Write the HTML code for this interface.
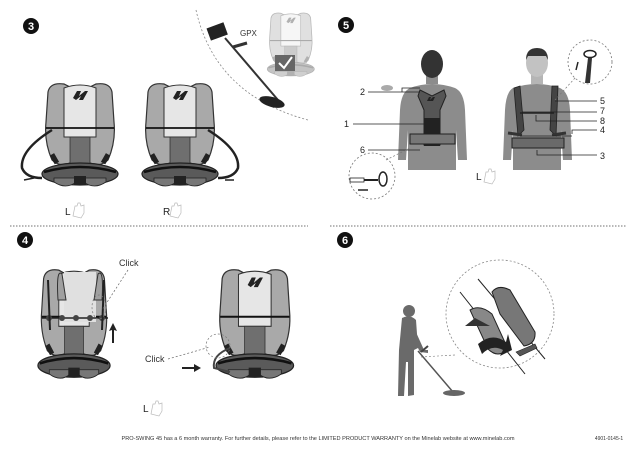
<!DOCTYPE html>
<html><head><meta charset="utf-8"><style>
html,body{margin:0;padding:0;background:#fff;}
svg{display:block;font-family:"Liberation Sans",sans-serif;}
</style></head><body>
<svg width="638" height="452" viewBox="0 0 638 452" xmlns="http://www.w3.org/2000/svg">
<defs>
<g id="hv">
  <path d="M8 10 Q10 0 24 2 L32 6 L32 80 Q20 86 12 78 Q4 60 6 40 Z" fill="#a9a9a9" stroke="#333" stroke-width="1.2"/>
  <path d="M72 10 Q70 0 56 2 L48 6 L48 80 Q60 86 68 78 Q76 60 74 40 Z" fill="#a9a9a9" stroke="#333" stroke-width="1.2"/>
  <path d="M24 6 Q40 0 56 6 L56 55 L24 55 Z" fill="#e6e6e6" stroke="#333" stroke-width="1"/>
  <rect x="30" y="55" width="20" height="30" fill="#6f6f6f" stroke="#333" stroke-width="0.8"/>
  <path d="M33 16 L37 9 L41 9 L39 14 L45 9 L48 9 L43 18 L39 18 L41 14 L36 18 Z" fill="#222"/>
  <line x1="6" y1="46" x2="74" y2="46" stroke="#111" stroke-width="1.8"/>
  <ellipse cx="40" cy="92" rx="38" ry="11" fill="#5a5a5a" stroke="#222" stroke-width="1.2"/>
  <path d="M4 90 Q40 80 76 90" fill="none" stroke="#111" stroke-width="2.5"/>
  <path d="M14 100 Q26 108 36 100 L44 100 Q54 108 66 100 L66 96 L14 96 Z" fill="#777" stroke="#222" stroke-width="0.8"/>
  <rect x="34" y="94" width="12" height="9" fill="#222"/>
  <rect x="12" y="72" width="5" height="10" fill="#222" transform="rotate(-30 14 77)"/>
  <rect x="63" y="72" width="5" height="10" fill="#222" transform="rotate(30 66 77)"/>
</g>
</defs>

<line x1="10" y1="226" x2="308" y2="226" stroke="#444" stroke-width="0.8" stroke-dasharray="1.5,1.5"/>
<line x1="330" y1="226" x2="627" y2="226" stroke="#444" stroke-width="0.8" stroke-dasharray="1.5,1.5"/>

<g font-weight="bold" font-size="11" fill="#fff" text-anchor="middle">
<circle cx="31" cy="26" r="8" fill="#111"/><text x="31" y="30">3</text>
<circle cx="346" cy="25" r="8" fill="#111"/><text x="346" y="29">5</text>
<circle cx="25" cy="240" r="8" fill="#111"/><text x="25" y="244">4</text>
<circle cx="345" cy="240" r="8" fill="#111"/><text x="345" y="244">6</text>
</g>

<path d="M196 10 Q215 95 308 120" fill="none" stroke="#888" stroke-width="0.8" stroke-dasharray="2,2"/>
<text x="240" y="36" font-size="8" fill="#333">GPX</text>
<rect x="208" y="25" width="18" height="13" fill="#222" transform="rotate(-20 217 31)"/>
<line x1="225" y1="38" x2="278" y2="100" stroke="#333" stroke-width="2"/>
<line x1="233" y1="47" x2="247" y2="43" stroke="#333" stroke-width="3"/>
<ellipse cx="272" cy="102" rx="13" ry="5" fill="#222" transform="rotate(15 272 102)"/>
<g opacity="0.35" transform="translate(266,12) scale(0.62)"><use href="#hv"/></g>
<rect x="275" y="55" width="20" height="16" fill="#666"/>
<path d="M279 63 L284 68 L292 57" stroke="#fff" stroke-width="2" fill="none"/>

<g transform="translate(40,82)"><use href="#hv"/></g>
<g transform="translate(140,82)"><use href="#hv"/></g>
<path d="M52 130 Q20 150 22 168 Q26 178 42 178" fill="none" stroke="#222" stroke-width="2.5"/>
<path d="M208 130 Q240 150 238 168 Q234 178 218 178" fill="none" stroke="#222" stroke-width="2.5"/>
<line x1="24" y1="180" x2="34" y2="178" stroke="#222" stroke-width="1.5"/>
<line x1="225" y1="180" x2="234" y2="180" stroke="#222" stroke-width="1.5"/>
<text x="65" y="215" font-size="10" fill="#222">L</text>
<text x="163" y="215" font-size="10" fill="#222">R</text>
<path d="M73 216 l2 -10 l2 0 l1 -3 l2 0 l1 3 l3 -1 l0 8 l-3 5 Z" fill="none" stroke="#bbb" stroke-width="0.7"/>
<path d="M170 216 l2 -10 l2 0 l1 -3 l2 0 l1 3 l3 -1 l0 8 l-3 5 Z" fill="none" stroke="#bbb" stroke-width="0.7"/>

<g fill="#8c8c8c">
<path d="M410 88 Q432 80 455 88 Q464 92 465 110 L467 160 L458 160 L456 130 L456 170 L408 170 L408 130 L406 160 L398 160 L400 110 Q401 92 410 88 Z"/>
<rect x="426" y="74" width="12" height="10"/>
<path d="M513 88 Q537 80 560 88 Q569 92 570 110 L572 160 L563 160 L561 130 L561 170 L513 170 L513 130 L511 160 L503 160 L505 110 Q506 92 513 88 Z"/>
<rect x="531" y="72" width="12" height="12" fill="#b5b5b5"/>
</g>
<ellipse cx="432" cy="64" rx="11" ry="14" fill="#333"/>
<ellipse cx="537" cy="63" rx="11" ry="14" fill="#c2c2c2"/>
<path d="M526 60 Q526 48 537 48 Q548 48 548 60 L546 56 L528 56 Z" fill="#333"/>
<ellipse cx="387" cy="88" rx="6" ry="3" fill="#aaa"/>
<path d="M420 90 L432 96 L444 90 L446 96 L440 110 L440 145 L424 145 L424 110 L418 96 Z" fill="#555" stroke="#222" stroke-width="1"/>
<rect x="424" y="118" width="16" height="28" fill="#222"/>
<rect x="410" y="134" width="45" height="10" fill="#777" stroke="#222" stroke-width="1"/>
<path d="M427 101 l2 -4 h2 l-1 3 l3 -3 h2 l-2 4 Z" fill="#222"/>
<path d="M514 88 L520 86 L524 130 L518 136 Z M558 86 L552 86 L550 130 L556 136 Z" fill="#444" stroke="#222" stroke-width="0.8"/>
<line x1="520" y1="113" x2="554" y2="113" stroke="#222" stroke-width="1.5"/>
<rect x="512" y="138" width="52" height="10" fill="#6a6a6a" stroke="#222" stroke-width="1"/>
<path d="M508 133 L522 135 M566 133 L552 135" stroke="#333" stroke-width="3"/>
<g font-size="9" fill="#222">
<text x="360" y="95">2</text><text x="344" y="127">1</text><text x="360" y="153">6</text>
<text x="600" y="104">5</text><text x="600" y="114">7</text><text x="600" y="124">8</text><text x="600" y="133">4</text><text x="600" y="159">3</text>
</g>
<g stroke="#222" stroke-width="0.8" fill="none">
<path d="M368 92 H420 M402 92 V88 H420"/>
<line x1="353" y1="124" x2="430" y2="124"/>
<line x1="368" y1="150" x2="420" y2="150"/>
<line x1="555" y1="101" x2="597" y2="101"/>
<line x1="522" y1="112" x2="597" y2="112"/>
<path d="M536 115 V121 H597"/>
<path d="M520 136 H572 M572 134 V130 H597"/>
<path d="M537 150 V155 H597"/>
</g>
<circle cx="372" cy="176" r="23" fill="#fff" stroke="#777" stroke-width="0.8" stroke-dasharray="2,2"/>
<line x1="386" y1="160" x2="410" y2="148" stroke="#777" stroke-width="0.7" stroke-dasharray="2,2"/>
<rect x="350" y="178" width="14" height="4" fill="#fff" stroke="#222" stroke-width="0.8"/>
<line x1="364" y1="180" x2="378" y2="180" stroke="#222" stroke-width="2"/>
<ellipse cx="383" cy="179" rx="4" ry="7" fill="none" stroke="#222" stroke-width="1.5"/>
<line x1="358" y1="190" x2="368" y2="190" stroke="#222" stroke-width="1.5"/>
<circle cx="590" cy="62" r="22" fill="#fff" stroke="#777" stroke-width="0.8" stroke-dasharray="2,2"/>
<line x1="575" y1="78" x2="555" y2="100" stroke="#777" stroke-width="0.7" stroke-dasharray="2,2"/>
<ellipse cx="590" cy="54" rx="6" ry="3.5" fill="none" stroke="#222" stroke-width="1.5"/>
<path d="M588 58 L585 83 L590 83 L592 58 Z" fill="#333"/>
<line x1="578" y1="62" x2="576" y2="70" stroke="#222" stroke-width="1.5"/>
<text x="476" y="180" font-size="10" fill="#222">L</text>
<path d="M484 182 l2 -10 l2 0 l1 -3 l2 0 l1 3 l3 -1 l0 8 l-3 5 Z" fill="none" stroke="#bbb" stroke-width="0.7"/>

<g transform="translate(36,268) scale(0.95,1.06)"><use href="#hv"/></g>
<rect x="64" y="272" width="32" height="50" fill="#e0e0e0"/>
<path d="M62 274 Q56 268 58 300 L66 300 Z M98 274 Q104 268 102 300 L94 300 Z" fill="#a0a0a0" stroke="#333"/>
<line x1="42" y1="318" x2="108" y2="318" stroke="#222" stroke-width="1.5"/>
<g fill="#444"><circle cx="49" cy="318" r="3"/><circle cx="62" cy="318" r="3"/><circle cx="76" cy="318" r="3"/><circle cx="90" cy="318" r="3"/><circle cx="102" cy="318" r="3"/></g>
<path d="M48 280 L50 330 M104 280 L102 330" stroke="#222" stroke-width="2"/>
<g transform="translate(214,268) scale(1.02,1.06)"><use href="#hv"/></g>
<path d="M230 348 Q212 355 214 368 L230 372" fill="none" stroke="#444" stroke-width="2"/>
<text x="119" y="266" font-size="9" fill="#333">Click</text>
<text x="145" y="362" font-size="9" fill="#333">Click</text>
<line x1="128" y1="270" x2="102" y2="310" stroke="#666" stroke-width="0.7" stroke-dasharray="2,2"/>
<ellipse cx="99" cy="307" rx="7" ry="12" fill="none" stroke="#777" stroke-width="0.7" stroke-dasharray="2,2"/>
<line x1="168" y1="359" x2="210" y2="347" stroke="#666" stroke-width="0.7" stroke-dasharray="2,2"/>
<circle cx="218" cy="346" r="12" fill="none" stroke="#777" stroke-width="0.7" stroke-dasharray="2,2"/>
<path d="M112 343 L112 330 L109 331 L113 323 L117 331 L114 330 L114 343 Z" fill="#222"/>
<path d="M182 367 L194 367 L194 364 L201 368 L194 372 L194 369 L182 369 Z" fill="#222"/>
<text x="143" y="412" font-size="10" fill="#222">L</text>
<path d="M151 414 l2 -10 l2 0 l1 -3 l2 0 l1 3 l3 -1 l0 8 l-3 5 Z" fill="none" stroke="#bbb" stroke-width="0.7"/>

<g transform="translate(0,14)">
<circle cx="500" cy="300" r="54" fill="#fff" stroke="#888" stroke-width="0.8" stroke-dasharray="2,2"/>
<line x1="460" y1="278" x2="525" y2="360" stroke="#222" stroke-width="1"/>
<line x1="478" y1="265" x2="545" y2="345" stroke="#222" stroke-width="1"/>
<path d="M492 278 Q498 270 510 276 L535 318 Q536 330 524 332 L500 300 Z" fill="#777" stroke="#222" stroke-width="1"/>
<path d="M470 296 Q480 290 492 300 L508 335 Q498 345 488 335 Z" fill="#888" stroke="#222" stroke-width="1"/>
<path d="M478 330 Q492 318 506 328 L508 320 L512 336 L500 342 L503 336 Q492 330 482 340 Z" fill="#222"/>
<path d="M465 312 L475 304 L490 312 Z" fill="#333"/>
<path d="M516 338 L535 330 L537 334 L520 342 Z" fill="#555" stroke="#222" stroke-width="0.6"/>
</g>
<line x1="421" y1="357" x2="455" y2="355" stroke="#888" stroke-width="0.7" stroke-dasharray="2,2"/>
<g fill="#6a6a6a">
<circle cx="409" cy="311" r="6"/>
<path d="M402 318 Q410 314 416 320 L418 348 L414 350 L414 395 L408 396 L408 362 L406 362 L404 396 L398 396 L399 350 Z"/>
<path d="M415 330 L424 350 L428 350 L428 353 L420 352 L413 338 Z"/>
</g>
<line x1="418" y1="351" x2="453" y2="392" stroke="#555" stroke-width="1.5"/>
<line x1="421" y1="352" x2="428" y2="346" stroke="#444" stroke-width="2"/>
<ellipse cx="454" cy="393" rx="11" ry="3" fill="#666"/>

<text x="318" y="440" font-size="5.6" fill="#333" text-anchor="middle">PRO-SWING 45 has a 6 month warranty. For further details, please refer to the LIMITED PRODUCT WARRANTY on the Minelab website at www.minelab.com</text>
<text x="609" y="440" font-size="5" fill="#333" text-anchor="middle">4901-0145-1</text>
</svg>
</body></html>
